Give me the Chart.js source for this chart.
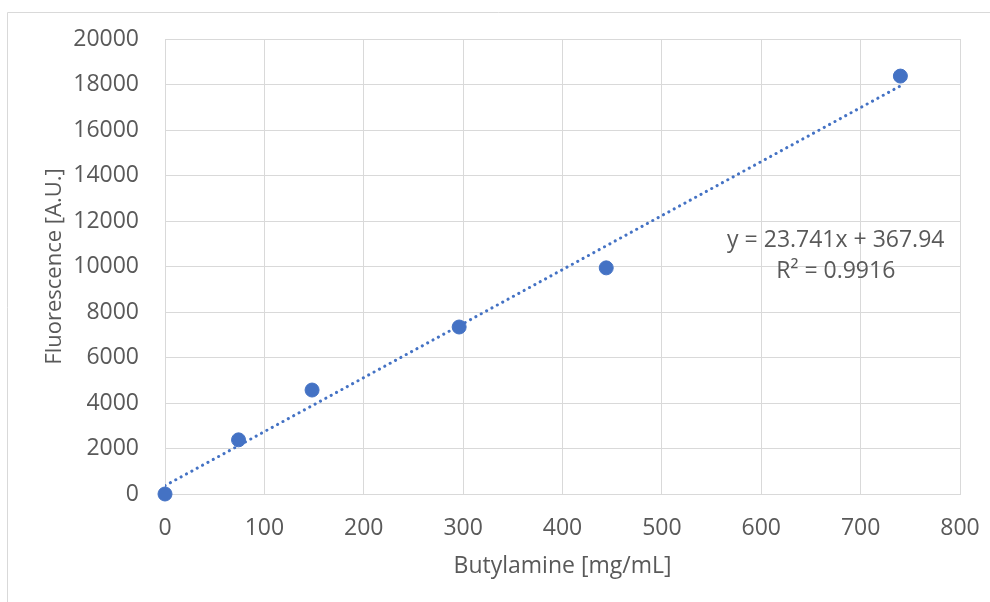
<!DOCTYPE html>
<html>
<head>
<meta charset="utf-8">
<script src="https://cdn.jsdelivr.net/npm/chart.js@4"></script>
<style>
  html, body { margin: 0; padding: 0; background: #fff; }
  canvas { display: block; }
</style>
</head>
<body>
<canvas id="calChart" width="990" height="602"></canvas>
<script>
// measured points
const concentration = [0, 74, 148, 296, 444, 740]
const fluorescence = [0, 2380, 4570, 7340, 9940, 18370]

// linear trendline from the reference
const slope = 23.741
const intercept = 367.94
const trendX = [0, 740]
const equationText = 'y = 23.741x + 367.94'
const r2Text = 'R² = 0.9916'

const xTicks = [0, 100, 200, 300, 400, 500, 600, 700, 800]
const yTicks = [0, 2000, 4000, 6000, 8000, 10000, 12000, 14000, 16000, 18000, 20000]

const blue = '#4472C4'
const grey = '#595959'
const gridGrey = '#d9d9d9'
const font = '"Open Sans", "Liberation Sans", sans-serif'

const frame = {
    id: 'frame',
    beforeDraw(chart) {
        const ctx = chart.ctx
        ctx.save()
        ctx.strokeStyle = gridGrey
        ctx.lineWidth = 1
        ctx.beginPath()
        ctx.moveTo(7.5, 602)
        ctx.lineTo(7.5, 12.5)
        ctx.lineTo(990, 12.5)
        ctx.stroke()
        ctx.restore()
    },
    afterDatasetsDraw(chart) {
        const ctx = chart.ctx
        const x = chart.scales.x.getPixelForValue(675)
        const y1 = chart.scales.y.getPixelForValue(11165)
        const y2 = chart.scales.y.getPixelForValue(9800)
        ctx.save()
        ctx.fillStyle = grey
        ctx.font = '23px ' + font
        ctx.textAlign = 'center'
        ctx.textBaseline = 'middle'
        ctx.fillText(equationText, x, y1)
        ctx.fillText(r2Text, x, y2)
        ctx.restore()
    }
}

new Chart(document.getElementById('calChart'), {
    type: 'scatter',
    data: {
        datasets: [
            {
                label: 'data',
                data: concentration.map((c, i) => ({ x: c, y: fluorescence[i] })),
                backgroundColor: blue,
                borderColor: blue,
                pointRadius: 7,
                clip: false,
                order: 1
            },
            {
                label: 'trend',
                type: 'line',
                data: trendX.map(x => ({ x: x, y: slope * x + intercept })),
                borderColor: blue,
                borderWidth: 3,
                borderDash: [0.1, 6],
                borderCapStyle: 'round',
                pointRadius: 0,
                fill: false,
                order: 2
            }
        ]
    },
    options: {
        responsive: false,
        animation: false,
        layout: { padding: { left: 38, top: 39, right: 30, bottom: 18 } },
        plugins: {
            legend: { display: false },
            tooltip: { enabled: false }
        },
        scales: {
            x: {
                type: 'linear',
                min: 0,
                max: 800,
                afterBuildTicks: s => { s.ticks = xTicks.map(v => ({ value: v })) },
                afterFit: s => { s.height = 90; s.paddingLeft = 0; s.paddingRight = 0 },
                grid: { color: gridGrey, drawTicks: false },
                border: { color: gridGrey },
                ticks: {
                    color: grey, padding: 21,
                    font: { family: font, size: 23 },
                    callback: v => String(v)
                },
                title: {
                    display: true,
                    text: 'Butylamine [mg/mL]',
                    color: grey,
                    padding: { top: 2 },
                    font: { family: font, size: 23 }
                }
            },
            y: {
                min: 0,
                max: 20000,
                afterBuildTicks: s => { s.ticks = yTicks.map(v => ({ value: v })) },
                afterFit: s => { s.width = 127; s.paddingTop = 0; s.paddingBottom = 0 },
                grid: { color: gridGrey, drawTicks: false },
                border: { color: gridGrey },
                ticks: {
                    color: grey, padding: 26,
                    font: { family: font, size: 23 },
                    callback: v => String(v)
                },
                title: {
                    display: true,
                    text: 'Fluorescence [A.U.]',
                    color: grey,
                    padding: { bottom: 0 },
                    font: { family: font, size: 22 }
                }
            }
        }
    },
    plugins: [frame]
})
</script>
</body>
</html>
